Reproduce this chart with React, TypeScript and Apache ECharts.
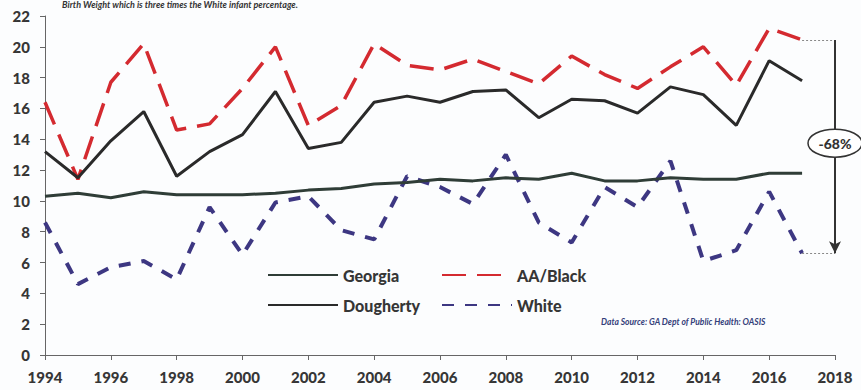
import React, { useEffect, useRef } from "react";
import * as echarts from "echarts";

const years = [1994, 1995, 1996, 1997, 1998, 1999, 2000, 2001, 2002, 2003, 2004, 2005, 2006, 2007, 2008, 2009, 2010, 2011, 2012, 2013, 2014, 2015, 2016, 2017];
const georgia = [10.3, 10.5, 10.2, 10.6, 10.4, 10.4, 10.4, 10.5, 10.7, 10.8, 11.1, 11.2, 11.4, 11.3, 11.5, 11.4, 11.8, 11.3, 11.3, 11.5, 11.4, 11.4, 11.8, 11.8];
const dougherty = [13.2, 11.5, 13.9, 15.8, 11.6, 13.2, 14.3, 17.1, 13.4, 13.8, 16.4, 16.8, 16.4, 17.1, 17.2, 15.4, 16.6, 16.5, 15.7, 17.4, 16.9, 14.9, 19.1, 17.8];
const aaBlack = [16.4, 11.4, 17.7, 20.2, 14.6, 15.0, 17.3, 20.0, 14.9, 16.2, 20.2, 18.8, 18.5, 19.2, 18.4, 17.6, 19.4, 18.2, 17.3, 18.7, 20.0, 17.5, 21.2, 20.45];
const white = [8.6, 4.6, 5.7, 6.1, 4.9, 9.6, 6.5, 9.9, 10.3, 8.1, 7.5, 11.6, 10.9, 9.8, 13.0, 8.6, 7.3, 10.9, 9.6, 12.6, 6.1, 6.8, 10.6, 6.6];

const changeLabel = "-68%";
const annotationX = 2018;
const ellipseY = 13.75;
const subtitle = "Birth Weight which is three times the White infant percentage.";
const sourceText = "Data Source: GA Dept of Public Health: OASIS";

const pairs = (vals: number[]) => years.map((y, i) => [y, vals[i]]);

export default function App() {
  const ref = useRef<HTMLDivElement>(null);
  useEffect(() => {
    if (!ref.current) return;
    const chart = echarts.init(ref.current, null, { renderer: "svg" });
    const font = "Lato, 'Open Sans', sans-serif";
    const lastAA = aaBlack[aaBlack.length - 1];
    const lastW = white[white.length - 1];
    const lastYear = years[years.length - 1];
    const legendBase = {
      orient: "vertical",
      top: 262,
      itemWidth: 70,
      itemHeight: 14,
      itemGap: 14,
      itemStyle: { opacity: 0 },
      textStyle: { color: "#363636", fontWeight: 900, fontSize: 16, fontFamily: font },
      selectedMode: false,
    };
    chart.setOption({
      animation: false,
      backgroundColor: "#fcfdfe",
      textStyle: { fontFamily: font },
      grid: { left: 45, right: 26, top: 16, bottom: 35, containLabel: false },
      xAxis: {
        type: "value",
        min: 1994,
        max: 2018,
        interval: 2,
        axisLine: { show: true, lineStyle: { color: "#666", width: 1 } },
        axisTick: { show: true, length: 5, lineStyle: { color: "#666" } },
        splitLine: { show: false },
        axisLabel: {
          formatter: (v: number) => String(v),
          color: "#363636",
          fontWeight: 900,
          fontSize: 15,
          margin: 14,
          fontFamily: font,
        },
      },
      yAxis: {
        type: "value",
        min: 0,
        max: 22,
        interval: 2,
        axisLine: { show: true, lineStyle: { color: "#666", width: 1 } },
        axisTick: { show: true, length: 5, lineStyle: { color: "#666" } },
        splitLine: { show: false },
        axisLabel: {
          color: "#363636",
          fontWeight: 900,
          fontSize: 15,
          margin: 15,
          fontFamily: font,
        },
      },
      legend: [
        { ...legendBase, left: 262, data: ["Georgia", "Dougherty"] },
        { ...legendBase, left: 436, data: ["AA/Black", "White"] },
      ],
      series: [
        {
          name: "White",
          type: "line",
          data: pairs(white),
          symbol: "none",
          silent: true,
          color: "#3d3782",
          lineStyle: { color: "#3d3782", width: 4, type: [12, 11] },
        },
        {
          name: "AA/Black",
          type: "line",
          data: pairs(aaBlack),
          symbol: "none",
          silent: true,
          color: "#d42a30",
          lineStyle: { color: "#d42a30", width: 3.5, type: [24, 11] },
          markLine: {
            silent: true,
            symbol: ["none", "none"],
            label: { show: false },
            data: [
              [
                { coord: [lastYear, lastAA], lineStyle: { color: "#888", type: [2, 2], width: 1 } },
                { coord: [annotationX, lastAA] },
              ],
              [
                { coord: [lastYear, lastW], lineStyle: { color: "#888", type: [2, 2], width: 1 } },
                { coord: [annotationX, lastW] },
              ],
              [
                { coord: [annotationX, lastAA], symbol: "none", lineStyle: { color: "#333", type: "solid", width: 2 } },
                { coord: [annotationX, lastW], symbol: "arrow", symbolSize: [9, 12] },
              ],
            ],
          },
        },
        {
          name: "Dougherty",
          type: "line",
          data: pairs(dougherty),
          symbol: "none",
          silent: true,
          color: "#2a2a2a",
          lineStyle: { color: "#2a2a2a", width: 3 },
        },
        {
          name: "Georgia",
          type: "line",
          data: pairs(georgia),
          symbol: "none",
          silent: true,
          color: "#2f3d37",
          lineStyle: { color: "#2f3d37", width: 3 },
        },
      ],
    });
    const c = chart.convertToPixel({ xAxisIndex: 0, yAxisIndex: 0 }, [annotationX, ellipseY]) as number[];
    chart.setOption({
      graphic: [
        {
          type: "text",
          left: 62,
          top: 0,
          style: { text: subtitle, fill: "#333", font: `italic bold 9px ${font}` },
          silent: true,
        },
        {
          type: "text",
          left: 601,
          top: 317,
          style: { text: sourceText, fill: "#34407a", font: `italic bold 8.5px ${font}` },
          silent: true,
        },
        {
          type: "ellipse",
          shape: { cx: c[0], cy: c[1], rx: 27, ry: 14 },
          style: { fill: "#ffffff", stroke: "#333", lineWidth: 1.5 },
          z: 100,
          silent: true,
        },
        {
          type: "text",
          x: c[0],
          y: c[1],
          style: {
            text: changeLabel,
            fill: "#333",
            font: `900 14px ${font}`,
            align: "center",
            verticalAlign: "middle",
          },
          z: 101,
          silent: true,
        },
      ],
    });
    return () => chart.dispose();
  }, []);
  return (
    <div
      ref={ref}
      style={{ position: "fixed", left: 0, top: 0, width: 861, height: 390 }}
    />
  );
}
